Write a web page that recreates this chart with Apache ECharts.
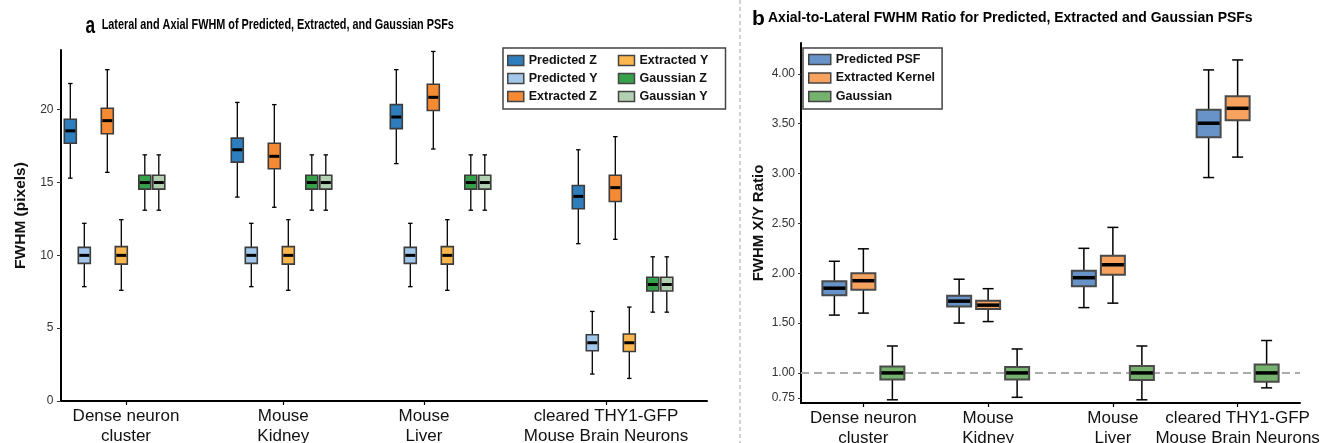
<!DOCTYPE html>
<html>
<head>
<meta charset="utf-8">
<script src="https://cdn.jsdelivr.net/npm/echarts@6/dist/echarts.min.js"></script>
<style>
  html, body { margin: 0; padding: 0; background: #fff; }
  #main { width: 1328px; height: 443px; }
</style>
</head>
<body>
<div id="main"></div>
<script>
// ---- data: [whisker low, Q1, median, Q3, whisker high] per category ----
var categories = ['Dense neuron\ncluster', 'Mouse\nKidney', 'Mouse\nLiver', 'cleared THY1-GFP\nMouse Brain Neurons'];

// panel a (FWHM, pixels)
var predictedZ = [[15.3, 17.7, 18.55, 19.35, 21.8], [14.0, 16.4, 17.25, 18.05, 20.5], [16.3, 18.7, 19.5, 20.35, 22.75], [10.8, 13.2, 14.05, 14.8, 17.25]];
var predictedY = [[7.85, 9.45, 10.0, 10.55, 12.2], [7.85, 9.45, 10.0, 10.55, 12.2], [7.85, 9.45, 10.0, 10.55, 12.2], [1.85, 3.45, 4.0, 4.55, 6.15]];
var extractedZ = [[15.7, 18.35, 19.25, 20.1, 22.75], [13.3, 15.95, 16.8, 17.7, 20.35], [17.3, 19.95, 20.85, 21.75, 24.0], [11.1, 13.7, 14.65, 15.5, 18.15]];
var extractedY = [[7.6, 9.4, 10.0, 10.6, 12.45], [7.6, 9.4, 10.0, 10.6, 12.45], [7.6, 9.4, 10.0, 10.6, 12.45], [1.55, 3.4, 4.0, 4.6, 6.45]];
var gaussianZ = [[13.1, 14.55, 15.0, 15.5, 16.9], [13.1, 14.55, 15.0, 15.5, 16.9], [13.1, 14.55, 15.0, 15.5, 16.9], [6.1, 7.55, 8.0, 8.5, 9.9]];
var gaussianY = [[13.1, 14.55, 15.0, 15.5, 16.9], [13.1, 14.55, 15.0, 15.5, 16.9], [13.1, 14.55, 15.0, 15.5, 16.9], [6.1, 7.55, 8.0, 8.5, 9.9]];
var yTicksA = [0, 5, 10, 15, 20];

// panel b (axial / lateral ratio)
var predictedPSF = [[1.58, 1.78, 1.85, 1.92, 2.12], [1.5, 1.665, 1.72, 1.775, 1.94], [1.655, 1.87, 1.955, 2.025, 2.25], [2.96, 3.365, 3.505, 3.64, 4.04]];
var extractedKernel = [[1.6, 1.835, 1.925, 2.0, 2.245], [1.515, 1.64, 1.68, 1.725, 1.845], [1.7, 1.985, 2.085, 2.175, 2.46], [3.165, 3.535, 3.655, 3.775, 4.14]];
var gaussian = [[0.73, 0.935, 1.0, 1.065, 1.27], [0.755, 0.935, 1.0, 1.06, 1.24], [0.73, 0.93, 1.0, 1.07, 1.27], [0.85, 0.91, 1.0, 1.085, 1.325]];
var yTicksB = [0.75, 1.0, 1.5, 2.0, 2.5, 3.0, 3.5, 4.0];

// ---- layout (x positions on panel a's value axis, not data) ----
var groupPosA = [9.3, 176.3, 335.3, 517.3];
var boxOffsetA = [0, 14, 37, 51, 74.5, 88.5];
var tickPosA = [65, 222.3, 363, 545];

var FONT = "'Liberation Sans', Arial, sans-serif";

function boxRenderer(o) {
  return function (params, api) {
    var xv = api.value(0);
    var c = api.coord([xv, api.value(3)]);
    var cx = c[0] + o.offset;
    var y = function (v) { return api.coord([xv, v])[1]; };
    var yMin = y(api.value(1)), yQ1 = y(api.value(2)), yMed = y(api.value(3)),
        yQ3 = y(api.value(4)), yMax = y(api.value(5));
    var hw = o.boxW / 2, hc = o.capW / 2;
    var ws = { stroke: '#000', lineWidth: o.whisker };
    return {
      type: 'group',
      children: [
        { type: 'line', shape: { x1: cx, y1: yMax, x2: cx, y2: yQ3 }, style: ws },
        { type: 'line', shape: { x1: cx, y1: yQ1, x2: cx, y2: yMin }, style: ws },
        { type: 'line', shape: { x1: cx - hc, y1: yMax, x2: cx + hc, y2: yMax }, style: ws },
        { type: 'line', shape: { x1: cx - hc, y1: yMin, x2: cx + hc, y2: yMin }, style: ws },
        { type: 'rect', shape: { x: cx - hw, y: yQ3, width: o.boxW, height: yQ1 - yQ3 },
          style: { fill: api.visual('color'), stroke: o.edge, lineWidth: o.edgeW } },
        { type: 'line', shape: { x1: cx - hw + 1, y1: yMed, x2: cx + hw - 1, y2: yMed },
          style: { stroke: '#000', lineWidth: o.medW } }
      ]
    };
  };
}

var seriesA = [
  { name: 'Predicted Z', values: predictedZ, color: '#2e7ebd' },
  { name: 'Predicted Y', values: predictedY, color: '#a3c7ea' },
  { name: 'Extracted Z', values: extractedZ, color: '#f48a34' },
  { name: 'Extracted Y', values: extractedY, color: '#fcb64e' },
  { name: 'Gaussian Z', values: gaussianZ, color: '#37a04a' },
  { name: 'Gaussian Y', values: gaussianY, color: '#b3cfb1' }
];
var seriesB = [
  { name: 'Predicted PSF', values: predictedPSF, color: '#6793c9', offset: -29 },
  { name: 'Extracted Kernel', values: extractedKernel, color: '#f7a25f', offset: 0 },
  { name: 'Gaussian', values: gaussian, color: '#74b26e', offset: 29 }
];

var series = [];
seriesA.forEach(function (s, si) {
  series.push({
    type: 'custom', name: s.name, xAxisIndex: 0, yAxisIndex: 0,
    itemStyle: { color: s.color },
    encode: { x: 0, y: [1, 2, 3, 4, 5] },
    clip: false,
    renderItem: boxRenderer({ offset: 0, boxW: 12, capW: 4.5, whisker: 1.3, edge: '#3c3c3c', edgeW: 1.6, medW: 3 }),
    data: s.values.map(function (v, i) { return [groupPosA[i] + boxOffsetA[si]].concat(v); })
  });
});
seriesB.forEach(function (s, si) {
  var ser = {
    type: 'custom', name: s.name, xAxisIndex: 1, yAxisIndex: 1,
    itemStyle: { color: s.color },
    encode: { x: 0, y: [1, 2, 3, 4, 5] },
    clip: false,
    z: 3,
    renderItem: boxRenderer({ offset: s.offset, boxW: 24, capW: 11, whisker: 1.5, edge: '#4a4a4a', edgeW: 2, medW: 3.5 }),
    data: s.values.map(function (v, i) { return [i].concat(v); })
  };
  if (si === 2) {
    ser.markLine = {
      silent: true, symbol: ['none', 'none'], label: { show: false },
      lineStyle: { color: '#ababab', type: [8, 5], width: 2 },
      z: 1,
      data: [{ yAxis: 1 }]
    };
  }
  series.push(ser);
});

var legendTextA = { fontFamily: FONT, fontWeight: 'bold', fontSize: 12.5, color: '#111', lineHeight: 12, width: 84 };
var legendTextB = { fontFamily: FONT, fontWeight: 'bold', fontSize: 12.5, color: '#111', lineHeight: 12 };

var chart = echarts.init(document.getElementById('main'), null, { renderer: 'canvas' });
var option = {
  animation: false,
  backgroundColor: '#fff',
  title: [
    { text: 'b', left: 752, top: 7, padding: 0, textStyle: { fontFamily: FONT, fontWeight: 'bold', fontSize: 21, lineHeight: 24, color: '#000' } },
    { text: 'Axial-to-Lateral FWHM Ratio for Predicted, Extracted and Gaussian PSFs', left: 768, top: 10, padding: 0,
      textStyle: { fontFamily: FONT, fontWeight: 'bold', fontSize: 14, lineHeight: 17, color: '#000' } }
  ],
  legend: [
    {
      left: 503, top: 48, orient: 'vertical', height: 50,
      padding: [6, 2, 6, 4], itemGap: 5, itemWidth: 16, itemHeight: 10,
      borderColor: '#444', borderWidth: 1.5, borderRadius: 0,
      icon: 'rect', textStyle: legendTextA,
      data: seriesA.map(function (s) {
        return { name: s.name, itemStyle: { color: s.color, borderColor: '#444', borderWidth: 1.5 } };
      })
    },
    {
      left: 803, top: 48, orient: 'vertical', height: 50,
      padding: [5, 7, 6, 5], itemGap: 5.5, itemWidth: 22, itemHeight: 10,
      borderColor: '#444', borderWidth: 1.5, borderRadius: 0,
      icon: 'rect', textStyle: legendTextB,
      data: seriesB.map(function (s) {
        return { name: s.name, itemStyle: { color: s.color, borderColor: '#444', borderWidth: 1.5 } };
      })
    }
  ],
  grid: [
    { left: 61, right: 621, top: 50, bottom: 42, outerBoundsMode: 'none', containLabel: false },
    { left: 801, right: 28, top: 43, bottom: 40, outerBoundsMode: 'none', containLabel: false }
  ],
  xAxis: [
    {
      type: 'value', gridIndex: 0, min: 0, max: 646,
      splitLine: { show: false },
      axisLine: { show: true, onZero: false, lineStyle: { color: '#000', width: 2 } },
      axisTick: { show: true, length: 4, customValues: tickPosA, lineStyle: { color: '#000', width: 1.2 } },
      axisLabel: {
        customValues: tickPosA, margin: 5, fontFamily: FONT, fontSize: 17, lineHeight: 20, color: '#111',
        formatter: function (v) {
          var k = 0, best = Infinity;
          tickPosA.forEach(function (t, i) { if (Math.abs(t - v) < best) { best = Math.abs(t - v); k = i; } });
          return categories[k];
        }
      }
    },
    {
      type: 'category', gridIndex: 1, data: categories, boundaryGap: true,
      axisLine: { show: true, onZero: false, lineStyle: { color: '#000', width: 2 } },
      axisTick: { show: true, alignWithLabel: true, length: 4, lineStyle: { color: '#000', width: 1.2 } },
      axisLabel: { margin: 5, fontFamily: FONT, fontSize: 17, lineHeight: 20, color: '#111', interval: 0 }
    }
  ],
  yAxis: [
    {
      type: 'value', gridIndex: 0, min: 0, max: 24.1,
      splitLine: { show: false },
      name: 'FWHM (pixels)', nameLocation: 'middle', nameGap: 32, nameRotate: 90,
      nameTextStyle: { fontFamily: FONT, fontWeight: 'bold', fontSize: 15.5, color: '#111', padding: [0, 0, 0, 20] },
      axisLine: { show: true, lineStyle: { color: '#000', width: 2 } },
      axisTick: { show: true, length: 4, customValues: yTicksA, lineStyle: { color: '#333', width: 1 } },
      axisLabel: { customValues: yTicksA, margin: 7.5, fontFamily: FONT, fontSize: 12, color: '#333' }
    },
    {
      type: 'value', gridIndex: 1, min: 0.698, max: 4.31,
      splitLine: { show: false },
      name: 'FWHM X/Y Ratio', nameLocation: 'middle', nameGap: 35, nameRotate: 90,
      nameTextStyle: { fontFamily: FONT, fontWeight: 'bold', fontSize: 15, color: '#111' },
      axisLine: { show: true, lineStyle: { color: '#000', width: 2 } },
      axisTick: { show: true, length: 3, customValues: yTicksB, lineStyle: { color: '#333', width: 1 } },
      axisLabel: {
        customValues: yTicksB, margin: 6, fontFamily: FONT, fontSize: 12, color: '#333',
        formatter: function (v) { return v.toFixed(2); }
      }
    }
  ],
  graphic: [
    {
      type: 'line', silent: true,
      shape: { x1: 740, y1: 0, x2: 740, y2: 443 },
      style: { stroke: '#b5b5b5', lineWidth: 1.2, lineDash: [4, 3] }
    },
    // panel a heading is set in a condensed face, so it is drawn squeezed horizontally
    {
      type: 'text', x: 85.5, y: 26.5, scaleX: 0.72, silent: true,
      style: { text: 'a', fontFamily: FONT, fontWeight: 'bold', fontSize: 24, fill: '#000', align: 'left', verticalAlign: 'middle' }
    },
    {
      type: 'text', x: 101.7, y: 25, scaleX: 0.775, silent: true,
      style: { text: 'Lateral and Axial FWHM of Predicted, Extracted, and Gaussian PSFs', fontFamily: FONT, fontWeight: 'bold', fontSize: 14, fill: '#000', align: 'left', verticalAlign: 'middle' }
    }
  ],
  series: series
};
chart.setOption(option);
</script>
</body>
</html>
